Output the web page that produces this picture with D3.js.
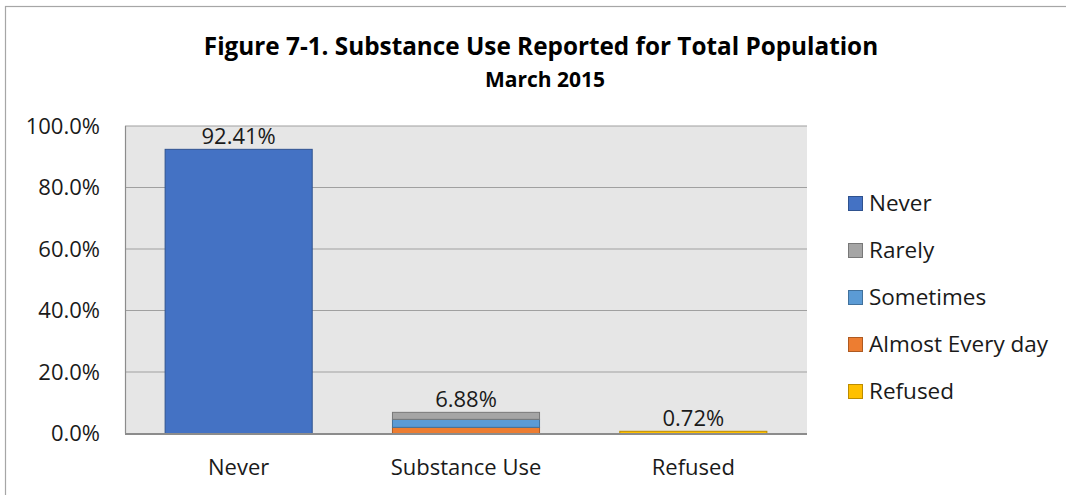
<!DOCTYPE html>
<html>
<head>
<meta charset="utf-8">
<script src="https://cdn.jsdelivr.net/npm/d3@7"></script>
<style>
  html, body { margin: 0; padding: 0; background: #fff; }
  svg { display: block; font-family: "Open Sans", "Noto Sans", sans-serif; }
</style>
</head>
<body>
<svg id="chart" width="1066" height="495"></svg>
<script>
// Categories along the x axis
const categories = ["Never", "Substance Use", "Refused"];

// Series values (percent) per category
const never          = [92.41, 0, 0];
const rarely         = [0, 2.28, 0];
const sometimes      = [0, 2.60, 0];
const almostEveryDay = [0, 2.00, 0];
const refused        = [0, 0, 0.72];

// Y axis tick values
const yTicks = [0, 20, 40, 60, 80, 100];

// Legend order (top to bottom)
const legendKeys = ["Never", "Rarely", "Sometimes", "Almost Every day", "Refused"];

const seriesValues = {
  "Never": never,
  "Rarely": rarely,
  "Sometimes": sometimes,
  "Almost Every day": almostEveryDay,
  "Refused": refused
};
const colors = {
  "Never": "#4472C4",
  "Rarely": "#A5A5A5",
  "Sometimes": "#5B9BD5",
  "Almost Every day": "#ED7D31",
  "Refused": "#FFC000"
};
const strokes = {
  "Never": "#2F528F",
  "Rarely": "#787878",
  "Sometimes": "#41719C",
  "Almost Every day": "#AE5A21",
  "Refused": "#BC8C00"
};

// Stacking order, bottom to top
const stackKeys = ["Refused", "Almost Every day", "Sometimes", "Rarely", "Never"];
const rows = categories.map((c, i) => {
  const r = { category: c };
  stackKeys.forEach(k => r[k] = seriesValues[k][i]);
  return r;
});
const stacked = d3.stack().keys(stackKeys)(rows);
const totals = rows.map(r => d3.sum(stackKeys, k => r[k]));

const svg = d3.select("#chart");

// Outer chart frame
svg.append("rect")
  .attr("x", 5.5).attr("y", 6.5)
  .attr("width", 1100).attr("height", 520)
  .attr("fill", "#fff").attr("stroke", "#A6A6A6").attr("stroke-width", 1.2);

const plot = { left: 125, right: 807, top: 126, bottom: 433.5 };

const x = d3.scaleBand()
  .domain(categories)
  .range([plot.left, plot.right])
  .paddingInner(0.353)
  .paddingOuter(0.1765);

const y = d3.scaleLinear()
  .domain([0, 100])
  .range([plot.bottom, plot.top]);

// Plot background
svg.append("rect")
  .attr("x", plot.left).attr("y", plot.top)
  .attr("width", plot.right - plot.left)
  .attr("height", plot.bottom - plot.top)
  .attr("fill", "#E6E6E6");

// Gridlines
svg.append("g")
  .selectAll("line")
  .data(yTicks.filter(d => d > 0))
  .join("line")
  .attr("x1", plot.left).attr("x2", plot.right)
  .attr("y1", d => y(d)).attr("y2", d => y(d))
  .attr("stroke", "#A0A0A0").attr("stroke-width", 1.2);

// Left plot edge
svg.append("line")
  .attr("x1", plot.left + 0.5).attr("x2", plot.left + 0.5)
  .attr("y1", plot.top).attr("y2", plot.bottom)
  .attr("stroke", "#8C8C8C").attr("stroke-width", 1.2);

// Y axis labels
const yAxis = d3.axisLeft(y)
  .tickValues(yTicks)
  .tickFormat(d => d3.format(".1f")(d) + "%")
  .tickSize(0)
  .tickPadding(0);
const yg = svg.append("g")
  .attr("transform", `translate(${plot.left - 25},0)`)
  .call(yAxis);
yg.select(".domain").remove();
yg.selectAll("text")
  .attr("font-size", 22)
  .attr("fill", "#1a1a1a")
  .attr("font-family", "Open Sans, sans-serif");

// Bars
svg.append("g")
  .selectAll("g")
  .data(stacked)
  .join("g")
  .attr("fill", d => colors[d.key])
  .attr("stroke", d => strokes[d.key])
  .attr("stroke-width", 1)
  .selectAll("rect")
  .data(d => d.filter(s => s[1] - s[0] > 0))
  .join("rect")
  .attr("x", d => x(d.data.category))
  .attr("width", x.bandwidth())
  .attr("y", d => y(d[1]))
  .attr("height", d => y(d[0]) - y(d[1]));

// X axis line
svg.append("line")
  .attr("x1", plot.left).attr("x2", plot.right)
  .attr("y1", plot.bottom + 0.5).attr("y2", plot.bottom + 0.5)
  .attr("stroke", "#8C8C8C").attr("stroke-width", 2);

// X axis labels
const xAxis = d3.axisBottom(x).tickSize(0).tickPadding(0);
const xg = svg.append("g")
  .attr("transform", `translate(0,${plot.bottom})`)
  .call(xAxis);
xg.select(".domain").remove();
xg.selectAll("text")
  .attr("dy", null)
  .attr("y", 41)
  .attr("font-size", 22)
  .attr("fill", "#1a1a1a")
  .attr("font-family", "Open Sans, sans-serif");

// Total labels above bars
svg.append("g")
  .selectAll("text")
  .data(categories)
  .join("text")
  .attr("x", d => x(d) + x.bandwidth() / 2)
  .attr("y", (d, i) => y(totals[i]) - 5)
  .attr("text-anchor", "middle")
  .attr("font-size", 22)
  .attr("fill", "#1a1a1a")
  .text((d, i) => d3.format(".2f")(totals[i]) + "%");

// Legend
const legend = svg.append("g").attr("transform", "translate(848,0)");
const lg = legend.selectAll("g")
  .data(legendKeys)
  .join("g")
  .attr("transform", (d, i) => `translate(0,${203 + i * 47})`);
lg.append("rect")
  .attr("x", 0.5).attr("y", -6.5)
  .attr("width", 14).attr("height", 14)
  .attr("fill", d => colors[d])
  .attr("stroke", d => strokes[d]);
lg.append("text")
  .attr("x", 21).attr("y", 0)
  .attr("dy", "0.35em")
  .attr("font-size", 22.5)
  .attr("fill", "#1a1a1a")
  .text(d => d);

// Titles
svg.append("text")
  .attr("x", 541).attr("y", 55)
  .attr("text-anchor", "middle")
  .attr("font-weight", "bold")
  .attr("font-size", 24.3)
  .attr("fill", "#000")
  .text("Figure 7-1. Substance Use Reported for Total Population");
svg.append("text")
  .attr("x", 545).attr("y", 87)
  .attr("text-anchor", "middle")
  .attr("font-weight", "bold")
  .attr("font-size", 21)
  .attr("fill", "#000")
  .text("March 2015");
</script>
</body>
</html>
